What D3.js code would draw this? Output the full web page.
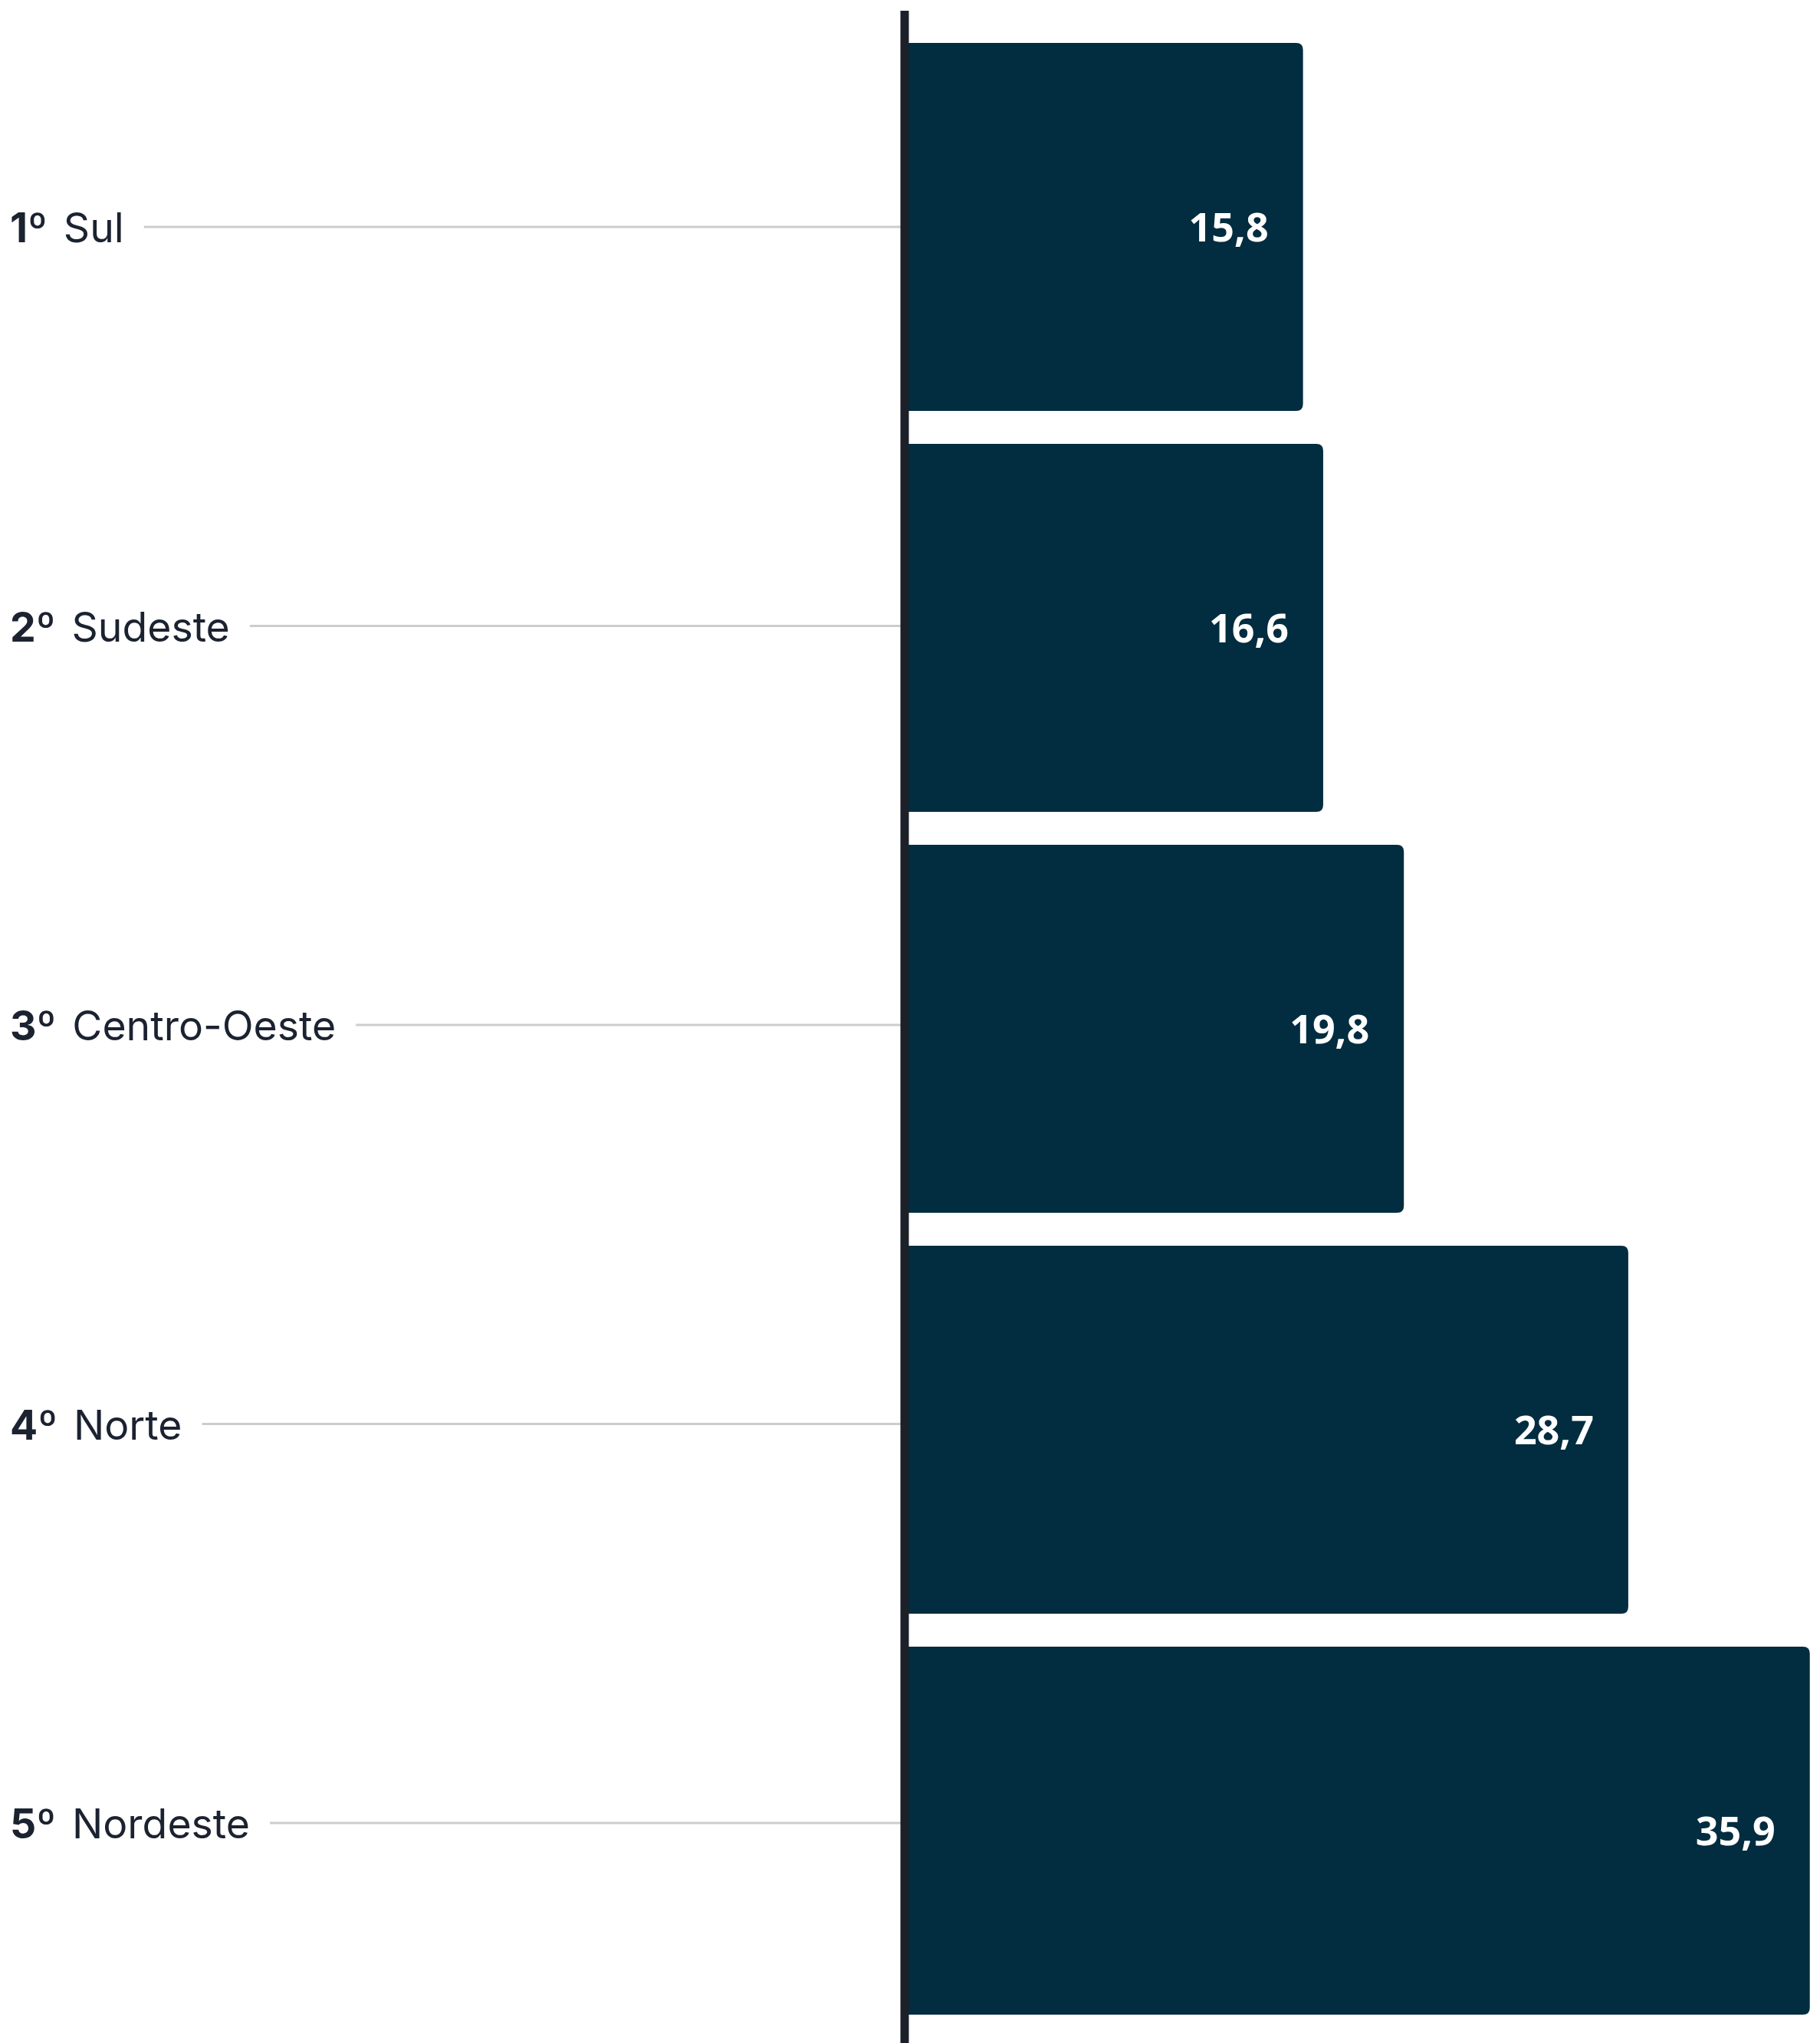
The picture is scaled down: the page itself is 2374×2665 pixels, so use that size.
<!DOCTYPE html>
<html>
<head>
<meta charset="utf-8">
<script src="https://cdn.jsdelivr.net/npm/d3@7"></script>
<style>
  body { margin: 0; background: #fff; }
</style>
</head>
<body>
<div id="chart"></div>
<script>
var ranks = ["1º", "2º", "3º", "4º", "5º"];
var regions = ["Sul", "Sudeste", "Centro-Oeste", "Norte", "Nordeste"];
var values = [15.8, 16.6, 19.8, 28.7, 35.9];

var width = 2374;
var height = 2665;
var barColor = "#022c3f";
var textColor = "#1b2230";

var svg = d3.select("#chart").append("svg")
  .attr("width", width)
  .attr("height", height);

var x = d3.scaleLinear().domain([0, 36]).range([1180, 2364]);
var y = d3.scaleBand().domain(regions).range([34.5, 2649.5]).paddingInner(0.0822).paddingOuter(0.0411);
// the row labels on the left sit on a slightly tighter grid than the bars
var yLabel = d3.scalePoint().domain(regions).range([296, 2378]);

var fmt = function(v) { return d3.format(".1f")(v).replace(".", ","); };

// bar with rounded right corners only
function barPath(x0, x1, y0, h, r) {
  return "M" + x0 + "," + y0 +
    "H" + (x1 - r) +
    "Q" + x1 + "," + y0 + " " + x1 + "," + (y0 + r) +
    "V" + (y0 + h - r) +
    "Q" + x1 + "," + (y0 + h) + " " + (x1 - r) + "," + (y0 + h) +
    "H" + x0 + "Z";
}

var rows = svg.selectAll(".row")
  .data(regions)
  .enter()
  .append("g")
  .attr("class", "row");

rows.append("path")
  .attr("d", function(d, i) { return barPath(x(0), x(values[i]), y(d), y.bandwidth(), 9); })
  .attr("fill", barColor);

rows.append("text")
  .attr("x", function(d, i) { return x(values[i]) - 45; })
  .attr("y", function(d) { return y(d) + y.bandwidth() / 2; })
  .attr("dy", "0.36em")
  .attr("text-anchor", "end")
  .attr("fill", "#fff")
  .style("font-family", "'Open Sans', sans-serif")
  .style("font-weight", 700)
  .style("font-size", "52px")
  .text(function(d, i) { return fmt(values[i]); });

var labels = rows.append("text")
  .attr("x", 13)
  .attr("y", function(d) { return yLabel(d); })
  .attr("dy", "0.38em")
  .attr("fill", textColor)
  .style("font-family", "Inter, sans-serif")
  .style("font-size", "53.5px");

labels.append("tspan")
  .style("font-weight", 700)
  .text(function(d, i) { return ranks[i]; });

labels.append("tspan")
  .attr("dx", 21)
  .text(function(d) { return d; });

rows.append("line")
  .attr("x1", function(d, i) {
    var bb = labels.nodes()[i].getBBox();
    return bb.x + bb.width + 26;
  })
  .attr("x2", x(0))
  .attr("y1", function(d) { return yLabel(d); })
  .attr("y2", function(d) { return yLabel(d); })
  .attr("stroke", "#cccdd0")
  .attr("stroke-width", 3);

svg.append("line")
  .attr("x1", x(0))
  .attr("x2", x(0))
  .attr("y1", 14)
  .attr("y2", height)
  .attr("stroke", "#1c2029")
  .attr("stroke-width", 11);
</script>
</body>
</html>
